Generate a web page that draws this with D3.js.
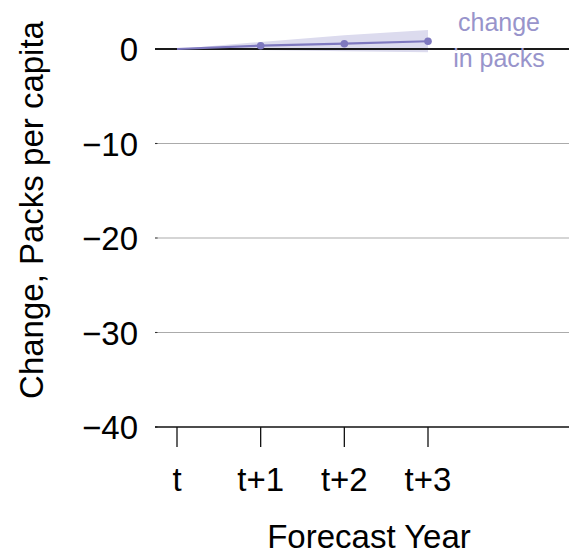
<!DOCTYPE html>
<html><head><meta charset="utf-8">
<script src="https://cdn.jsdelivr.net/npm/d3@7"></script>
<style>body{margin:0;background:#fff}svg{display:block}text{font-family:"Liberation Sans",Arial,sans-serif}</style>
</head><body>
<svg id="c" width="569" height="556"></svg>
<script>
const years = ["t","t+1","t+2","t+3"];
const change = [0, 0.35, 0.56, 0.82];
const upper = [0, 0.75, 1.45, 2.0];
const lower = [0, -0.1, -0.25, -0.35];
const yTicks = [0, -10, -20, -30, -40];
const yTickLabels = ["0","\u221210","\u221220","\u221230","\u221240"];

const svg = d3.select("#c");
const x = d3.scalePoint().domain(years).range([177, 428]);
const y = d3.scaleLinear().domain([-40, 0]).range([427, 49]);
const x0 = 155, x1 = 569;

// band
const idx = d3.range(years.length);
svg.append("path")
  .attr("d", d3.area().x(i => x(years[i])).y0(i => y(lower[i])).y1(i => y(upper[i]))(idx))
  .attr("fill", "#dcdbee");

// gridlines
svg.selectAll(".grid").data(yTicks.filter(v => v !== 0 && v !== -40)).enter().append("line")
  .attr("x1", x0 + 2).attr("x2", x1).attr("y1", d => y(d)).attr("y2", d => y(d))
  .attr("stroke", "#ababab").attr("stroke-width", 1.1);
// y tick marks
svg.selectAll(".ytk").data(yTicks).enter().append("line")
  .attr("x1", x0).attr("x2", x0 + 2.5).attr("y1", d => y(d)).attr("y2", d => y(d))
  .attr("stroke", "#333").attr("stroke-width", 1.1);
// bottom axis line
svg.append("line").attr("x1", x0).attr("x2", x1).attr("y1", y(-40)).attr("y2", y(-40))
  .attr("stroke", "#111").attr("stroke-width", 1.3);
// x ticks
svg.selectAll(".xtk").data(years).enter().append("line")
  .attr("x1", d => x(d)).attr("x2", d => x(d)).attr("y1", y(-40)).attr("y2", y(-40) + 20)
  .attr("stroke", "#111").attr("stroke-width", 1.3);

// zero line
svg.append("line").attr("x1", x0).attr("x2", x1).attr("y1", y(0)).attr("y2", y(0))
  .attr("stroke", "#1a1a1a").attr("stroke-width", 2);

// series line
svg.append("path")
  .attr("d", d3.line().x(i => x(years[i])).y(i => y(change[i]))(idx))
  .attr("fill", "none").attr("stroke", "#7e78bf").attr("stroke-width", 2.2);
svg.selectAll(".pt").data(idx.slice(1)).enter().append("circle")
  .attr("cx", i => x(years[i])).attr("cy", i => y(change[i])).attr("r", 3.8)
  .attr("fill", "#7e78bf");

// labels
svg.selectAll(".ylab").data(yTicks).enter().append("text")
  .attr("x", 138).attr("y", d => y(d) + 12).attr("text-anchor", "end")
  .attr("font-size", 33).attr("fill", "#000").text((d, i) => yTickLabels[i]);
svg.selectAll(".xlab").data(years).enter().append("text")
  .attr("x", d => x(d)).attr("y", 491).attr("text-anchor", "middle")
  .attr("font-size", 33).attr("fill", "#000").text(d => d);

svg.append("text").attr("x", 369).attr("y", 548).attr("text-anchor", "middle")
  .attr("font-size", 33).attr("fill", "#000").text("Forecast Year");
svg.append("text").attr("transform", "translate(43,210) rotate(-90)")
  .attr("text-anchor", "middle").attr("font-size", 33).attr("fill", "#000")
  .text("Change, Packs per capita");

svg.append("text").attr("x", 499).attr("y", 31).attr("text-anchor", "middle")
  .attr("font-size", 25).attr("fill", "#9894cb").text("change");
svg.append("text").attr("x", 499).attr("y", 67).attr("text-anchor", "middle")
  .attr("font-size", 25).attr("fill", "#9894cb").text("in packs");
</script>
</body></html>
